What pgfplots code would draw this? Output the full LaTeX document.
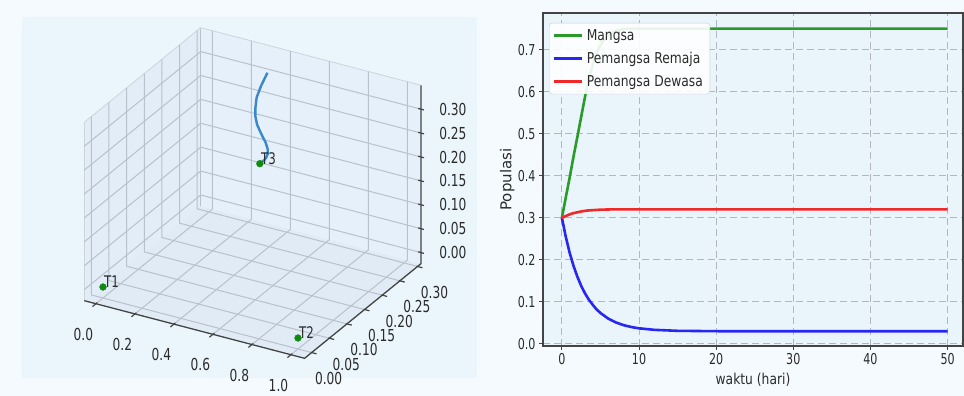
\documentclass[border=0pt]{standalone}
\usepackage{fontspec}
\setmainfont{DejaVu Sans}[FakeStretch=0.82]
\newfontfamily\plainfont{DejaVu Sans}
\newfontfamily\tickfam{DejaVu Sans}[FakeStretch=0.74]
\usepackage{pgfplots}
\usepackage{pgfplotstable}
\pgfplotsset{compat=1.18}
\definecolor{figbg}{HTML}{F4FAFD}
\definecolor{subbg}{HTML}{EAF5FC}
\definecolor{axbg}{HTML}{EAF4FB}
\definecolor{paneL}{HTML}{E2EDF8}
\definecolor{paneB}{HTML}{E5F0FA}
\definecolor{paneF}{HTML}{E0EBF6}
\definecolor{gridc}{HTML}{B8C1CC}
\definecolor{gridd}{HTML}{B2B7BD}
\definecolor{spine}{HTML}{444444}
\definecolor{labc}{HTML}{2B2B2B}
\definecolor{mgreen}{HTML}{2A9A2A}
\definecolor{mblue}{HTML}{2626F5}
\definecolor{mred}{HTML}{F02828}
\definecolor{trajc}{HTML}{3A88CC}
\definecolor{tgreen}{HTML}{118A11}

\pgfplotstableread{
t m r d
0 0.300 0.300 0.300
0.5 0.348 0.255 0.304
1 0.395 0.217 0.308
1.5 0.445 0.186 0.311
2 0.492 0.160 0.313
2.5 0.540 0.138 0.315
3 0.588 0.120 0.3165
3.5 0.630 0.105 0.3175
4 0.665 0.093 0.318
4.5 0.692 0.082 0.3187
5 0.712 0.0735 0.3192
6 0.735 0.0602 0.3197
7 0.745 0.0510 0.320
8 0.749 0.0446 0.320
9 0.750 0.0401 0.320
10 0.750 0.0370 0.320
12 0.750 0.0334 0.320
15 0.750 0.0311 0.320
20 0.750 0.0302 0.320
30 0.750 0.0300 0.320
40 0.750 0.0300 0.320
50 0.750 0.0300 0.320
}\simdata

\newcommand{\tickf}{\tickfam\fontsize{16.5}{17}\selectfont}
\newcommand{\rtickf}{\tickfam\fontsize{15}{16}\selectfont}

\begin{document}
\begin{tikzpicture}
\fill[figbg] (0,0) rectangle (964pt,396pt);
\useasboundingbox (0,0) rectangle (964pt,396pt);
\clip (0,0) rectangle (964pt,396pt);
\fill[subbg] (22pt,18pt) rectangle (477pt,379pt);

% ---------- 3D panel ----------
\begin{axis}[
  anchor=origin, at={(103pt,109pt)},
  x={(195pt,-51pt)}, y={(353pt,287pt)}, z={(0pt,478pt)},
  xmin=-0.06, xmax=1.07, ymin=-0.02, ymax=0.31, zmin=-0.023, zmax=0.35,
  hide axis, clip=false,
]
% panes
\fill[paneF] (axis cs:-0.06,-0.02,-0.023) -- (axis cs:1.07,-0.02,-0.023) -- (axis cs:1.07,0.31,-0.023) -- (axis cs:-0.06,0.31,-0.023) -- cycle;
\fill[paneL] (axis cs:-0.06,-0.02,-0.023) -- (axis cs:-0.06,0.31,-0.023) -- (axis cs:-0.06,0.31,0.35) -- (axis cs:-0.06,-0.02,0.35) -- cycle;
\fill[paneB] (axis cs:-0.06,0.31,-0.023) -- (axis cs:1.07,0.31,-0.023) -- (axis cs:1.07,0.31,0.35) -- (axis cs:-0.06,0.31,0.35) -- cycle;
% pane edges
\draw[gridc!70, line width=0.8pt] (axis cs:-0.06,-0.02,0.35) -- (axis cs:-0.06,-0.02,-0.023);
\draw[gridc, line width=1pt] (axis cs:-0.06,0.31,-0.023) -- (axis cs:-0.06,0.31,0.35);
\draw[gridc!70, line width=0.8pt] (axis cs:-0.06,-0.02,0.35) -- (axis cs:-0.06,0.31,0.35) -- (axis cs:1.07,0.31,0.35);
% grid
\pgfplotsinvokeforeach{0,0.2,0.4,0.6,0.8,1.0}{
  \draw[gridc, line width=1pt] (axis cs:#1,-0.02,-0.023) -- (axis cs:#1,0.31,-0.023) -- (axis cs:#1,0.31,0.35);
}
\pgfplotsinvokeforeach{0,0.05,0.10,0.15,0.20,0.25,0.30}{
  \draw[gridc, line width=1pt] (axis cs:1.07,#1,-0.023) -- (axis cs:-0.06,#1,-0.023) -- (axis cs:-0.06,#1,0.35);
  \draw[gridc, line width=1pt] (axis cs:-0.06,-0.02,#1) -- (axis cs:-0.06,0.31,#1) -- (axis cs:1.07,0.31,#1);
}
% axis lines
\draw[spine, line width=1.3pt] (axis cs:-0.06,-0.02,-0.023) -- (axis cs:1.07,-0.02,-0.023) -- (axis cs:1.07,0.31,-0.023) -- (axis cs:1.07,0.31,0.35);
% ticks and labels
\pgfplotsinvokeforeach{0.0,0.2,0.4,0.6,0.8,1.0}{
  \draw[spine, line width=1.2pt] (axis cs:#1,-0.016,-0.023) -- (axis cs:#1,-0.030,-0.023);
  \node[font=\tickf, text=labc, inner sep=0pt] at ([shift={(-12.5pt,-30.5pt)}]axis cs:#1,-0.02,-0.023) {#1};
}
\pgfplotsinvokeforeach{0.00,0.05,0.10,0.15,0.20,0.25,0.30}{
  \draw[spine, line width=1.2pt] (axis cs:1.065,#1,-0.023) -- (axis cs:1.095,#1,-0.023);
  \node[font=\tickf, text=labc, inner sep=0pt] at ([shift={(17pt,-26pt)}]axis cs:1.07,#1,-0.023) {#1};
  \draw[spine, line width=1.2pt] (axis cs:1.055,0.31,#1) -- (axis cs:1.085,0.31,#1);
  \node[font=\tickf, text=labc, inner sep=0pt, anchor=west] at ([shift={(18pt,0pt)}]axis cs:1.07,0.31,#1) {#1};
}
% data
\addplot3[trajc, line width=2.4pt, mark=none] table[x=m, y=r, z=d] {\simdata};
\addplot3[only marks, mark=*, mark size=3.4pt, tgreen,
  nodes near coords, point meta=explicit symbolic,
  every node near coord/.append style={anchor=base west, font=\tickfam\fontsize{16}{17}\selectfont, text=labc, inner sep=0pt, xshift=1pt, yshift=-1pt}]
  coordinates {(0,0,0) [T1] (1,0,0) [T2] (0.75,0.03,0.32) [T3]};
\end{axis}

% ---------- time series panel ----------
\begin{axis}[
  at={(543pt,50pt)}, anchor=south west, scale only axis,
  width=420pt, height=333pt,
  xmin=-2.45, xmax=52, ymin=-0.005, ymax=0.787,
  xtick={0,10,20,30,40,50}, xticklabels={0,10,20,30,40,50},
  ytick={0,0.1,0.2,0.3,0.4,0.5,0.6,0.7},
  yticklabels={0.0,0.1,0.2,0.3,0.4,0.5,0.6,0.7},
  axis background/.style={fill=axbg},
  axis line style={spine, line width=1.3pt},
  tick style={spine, line width=1pt},
  tick align=outside, major tick length=4pt,
  xtick pos=bottom, ytick pos=left,
  grid=major,
  major grid style={gridd, dash pattern=on 7pt off 4pt, line width=0.9pt},
  ticklabel style={font=\rtickf, text=labc},
  xlabel={waktu (hari)}, ylabel={\plainfont Populasi},
  label style={font=\fontsize{15}{16}\selectfont, text=labc},
  xlabel style={at={(axis description cs:0.5,-0.1)}, anchor=center},
  ylabel style={at={(axis description cs:-0.085,0.5)}, anchor=center},
  legend cell align=left,
  legend style={at={(axis description cs:0.0143,0.97)}, anchor=north west,
    fill=white, fill opacity=0.9, draw opacity=1, text opacity=1,
    draw=black!20, rounded corners=3pt, font=\fontsize{15}{16}\selectfont,
    inner xsep=3pt, inner ysep=3pt, row sep=4.5pt,
    nodes={inner ysep=3pt, inner xsep=4pt}, text=labc},
  legend image code/.code={\draw[#1, line width=2.6pt] (0pt,0pt) -- (28pt,0pt);},
]
\addplot[mgreen, line width=2.6pt, mark=none] table[x=t, y=m] {\simdata};
\addlegendentry{Mangsa}
\addplot[mblue, line width=2.6pt, mark=none] table[x=t, y=r] {\simdata};
\addlegendentry{Pemangsa Remaja}
\addplot[mred, line width=2.6pt, mark=none] table[x=t, y=d] {\simdata};
\addlegendentry{Pemangsa Dewasa}
\end{axis}
\end{tikzpicture}
\end{document}
